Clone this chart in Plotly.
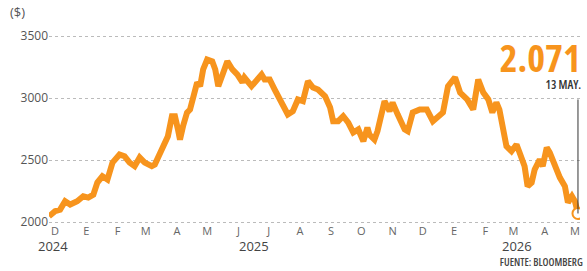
import plotly.graph_objects as go

dates = [
    "2024-12-04", "2024-12-10", "2024-12-15", "2024-12-20", "2024-12-25", "2025-01-01",
    "2025-01-07", "2025-01-12", "2025-01-17", "2025-01-21", "2025-01-26", "2025-01-31",
    "2025-02-05", "2025-02-10", "2025-02-12", "2025-02-17", "2025-02-22", "2025-02-27",
    "2025-03-04", "2025-03-09", "2025-03-16", "2025-03-19", "2025-03-24", "2025-03-29",
    "2025-04-01", "2025-04-05", "2025-04-08", "2025-04-11", "2025-04-13", "2025-04-16",
    "2025-04-20", "2025-04-23", "2025-04-26", "2025-04-30", "2025-05-03", "2025-05-06",
    "2025-05-10", "2025-05-15", "2025-05-18", "2025-05-21", "2025-05-26", "2025-05-30",
    "2025-06-04", "2025-06-09", "2025-06-14", "2025-06-16", "2025-06-23", "2025-06-28",
    "2025-07-03", "2025-07-06", "2025-07-11", "2025-07-16", "2025-07-21", "2025-07-26",
    "2025-07-29", "2025-08-03", "2025-08-08", "2025-08-13", "2025-08-18", "2025-08-23",
    "2025-08-28", "2025-09-04", "2025-09-09", "2025-09-12", "2025-09-17", "2025-09-22",
    "2025-09-27", "2025-10-02", "2025-10-07", "2025-10-12", "2025-10-16", "2025-10-18",
    "2025-10-23", "2025-10-26", "2025-10-30", "2025-11-02", "2025-11-07", "2025-11-10",
    "2025-11-15", "2025-11-22", "2025-11-25", "2025-11-30", "2025-12-07", "2025-12-14",
    "2025-12-20", "2025-12-25", "2025-12-30", "2026-01-04", "2026-01-11", "2026-01-16",
    "2026-01-23", "2026-01-29", "2026-02-03", "2026-02-08", "2026-02-13", "2026-02-17",
    "2026-02-21", "2026-02-24", "2026-02-27", "2026-03-03", "2026-03-08", "2026-03-13",
    "2026-03-16", "2026-03-21", "2026-03-24", "2026-03-28", "2026-03-31", "2026-04-05",
    "2026-04-08", "2026-04-12", "2026-04-15", "2026-04-20", "2026-04-25", "2026-04-30",
    "2026-05-03", "2026-05-07", "2026-05-10", "2026-05-13",
]
prices = [
    2048, 2089, 2102, 2169, 2143, 2169,
    2210, 2199, 2223, 2320, 2371, 2344,
    2481, 2532, 2546, 2532, 2481, 2452,
    2522, 2481, 2452, 2465, 2562, 2643,
    2694, 2855, 2855, 2748, 2667, 2774,
    2885, 2909, 2990, 3127, 3097, 3232,
    3312, 3298, 3232, 3097, 3207, 3298,
    3232, 3191, 3127, 3167, 3097, 3151,
    3191, 3151, 3151, 3070, 2990, 2895,
    2869, 2895, 2990, 2976, 3137, 3086,
    3070, 3016, 2925, 2815, 2815, 2855,
    2804, 2723, 2748, 2653, 2764, 2707,
    2667, 2734, 2909, 2976, 2895, 2965,
    2870, 2748, 2734, 2885, 2909, 2909,
    2815, 2855, 2885, 3097, 3167, 3046,
    2990, 2909, 3151, 3046, 2990, 2885,
    2965, 2909, 2804, 2613, 2573, 2627,
    2562, 2452, 2290, 2320, 2425, 2506,
    2452, 2602, 2562, 2452, 2360, 2290,
    2159, 2210, 2169, 2071,
]

month_ticks = [
    "2024-12-10", "2025-01-10", "2025-02-10", "2025-03-10", "2025-04-10", "2025-05-10",
    "2025-06-10", "2025-07-10", "2025-08-10", "2025-09-10", "2025-10-10", "2025-11-10",
    "2025-12-10", "2026-01-10", "2026-02-10", "2026-03-10", "2026-04-10", "2026-05-10",
]
month_labels = ["D", "E", "F", "M", "A", "M", "J", "J", "A", "S", "O", "N", "D", "E", "F", "M", "A", "M"]
y_ticks = [2000, 2500, 3000, 3500]
year_labels = ["2024", "2025", "2026"]
year_x = [0.0075, 0.386, 0.881]

last_label = "2.071"
last_date_label = "13 MAY."
source_label = "FUENTE: BLOOMBERG"
label_level = 2990

ORANGE = "#F7941D"
GRAY = "#555555"

fig = go.Figure()
fig.add_trace(go.Scatter(
    x=dates, y=prices, mode="lines",
    line=dict(color=ORANGE, width=6),
    hoverinfo="skip", showlegend=False,
))
fig.add_shape(type="line", xref="x", yref="y",
              x0=dates[-1], x1=dates[-1], y0=prices[-1], y1=label_level,
              line=dict(color="#333333", width=1))
fig.add_trace(go.Scatter(
    x=[dates[-1]], y=[prices[-1]], mode="markers",
    marker=dict(size=11, color="white", line=dict(color=ORANGE, width=2)),
    hoverinfo="skip", showlegend=False,
))

annotations = [
    dict(text="($)", x=-0.077, y=1.092, xanchor="left", yanchor="middle",
         font=dict(size=13, color=GRAY, family="Open Sans")),
    dict(text=last_label, x=1.006, y=0.86, xanchor="right", yanchor="middle", align="right",
         font=dict(size=38, color=ORANGE, family="Open Sans", weight=700)),
    dict(text=last_date_label, x=1.006, y=0.724, xanchor="right", yanchor="middle", align="right",
         font=dict(size=12, color="#333333", family="Open Sans", weight=600)),
    dict(text=source_label, x=1.009, y=-0.184, xanchor="right", yanchor="middle", align="right",
         font=dict(size=10.5, color="#444444", family="Open Sans", weight=600)),
]
for yl, yx in zip(year_labels, year_x):
    annotations.append(dict(text=yl, x=yx, y=-0.102, xanchor="center", yanchor="middle",
                            font=dict(size=13, color="#444444", family="Open Sans")))
for a in annotations:
    a.update(xref="paper", yref="paper", showarrow=False)

fig.update_layout(
    width=587, height=271,
    margin=dict(l=49, r=7, t=30, b=45),
    paper_bgcolor="white", plot_bgcolor="white",
    annotations=annotations,
    xaxis=dict(
        type="date", range=["2024-12-04", "2026-05-15"],
        tickvals=month_ticks, ticktext=month_labels,
        showgrid=False, zeroline=False, showline=False, ticks="",
        tickfont=dict(size=11, color="#666666", family="Open Sans"),
        ticklabelstandoff=-3,
    ),
    yaxis=dict(
        range=[1970, 3550], tickvals=y_ticks,
        showgrid=True, gridcolor="#bbbbbb", griddash="dot", gridwidth=1,
        zeroline=False, showline=False, ticks="",
        tickfont=dict(size=12, color=GRAY, family="Open Sans"),
    ),
)

post = (
    "document.body.style.margin='0';document.body.style.overflow='hidden';"
    "var keys=['" + last_label + "','" + last_date_label + "','" + source_label + "'];"
    "document.querySelectorAll('.annotation-text').forEach(function(t){"
    "if(keys.indexOf(t.textContent)>=0){t.style.fontStretch='75%';}});"
)
fig.write_html("out.html", post_script=post, config={"displayModeBar": False})
